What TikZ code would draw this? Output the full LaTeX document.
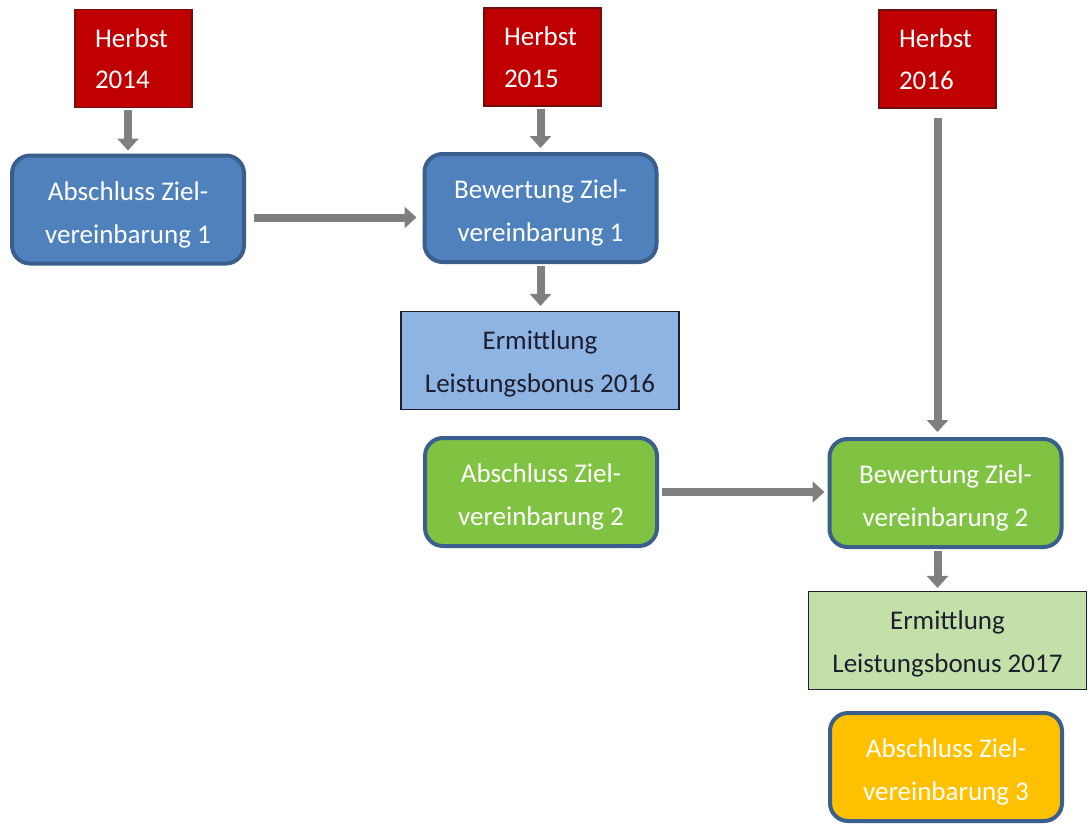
\documentclass[tikz,border=0pt]{standalone}
\usepackage{fontspec}
\setmainfont{Carlito}
\usetikzlibrary{calc,arrows.meta}

\definecolor{herbstred}{HTML}{C00000}
\definecolor{herbstdark}{HTML}{6E1010}
\definecolor{goalblue}{HTML}{4F81BD}
\definecolor{goalgreen}{HTML}{80C342}
\definecolor{goalorange}{HTML}{FFC000}
\definecolor{goalborder}{HTML}{3A5F8C}
\definecolor{bonusblue}{HTML}{8EB4E3}
\definecolor{bonusgreen}{HTML}{C4E0A9}
\definecolor{bonusborder}{HTML}{1E1E2E}
\definecolor{flowgray}{HTML}{7F7F7F}

\tikzset{
  herbst/.style={draw=herbstdark, line width=1.2pt, fill=herbstred, text=white,
    font=\fontsize{27}{41.5}\selectfont,
    minimum width=116pt, minimum height=98pt, text width=77pt, inner xsep=20pt, align=left},
  goal/.style={draw=goalborder, line width=4pt, rounded corners=18pt, text=white,
    text height=72pt, text depth=5pt, minimum width=232pt, minimum height=108pt, align=center},
  bonus/.style={draw=bonusborder, line width=1.2pt, text=bonusborder,
    text height=68pt, text depth=5pt, minimum width=278pt, minimum height=98pt, align=center},
  flow/.style={draw=flowgray, line width=8pt, -{Triangle[width=21pt,length=12pt]}}
}

\begin{document}
\begin{tikzpicture}[x=1pt,y=-1pt,font=\fontsize{27}{43}\selectfont]
\useasboundingbox (0,0) rectangle (1088,825);

% Termine
\node[herbst] (h14) at (133.5,58.5) {Herbst\\2014};
\node[herbst] (h15) at (542.5,57) {Herbst\\2015};
\node[herbst] (h16) at (937.5,59) {Herbst\\2016};

% Zielvereinbarungen
\node[goal, fill=goalblue] (az1) at (128,209.5) {Abschluss Ziel-\\vereinbarung 1};
\node[goal, fill=goalblue] (bz1) at (540.5,208) {Bewertung Ziel-\\vereinbarung 1};
\node[bonus, fill=bonusblue] (el16) at (540,360.5) {Ermittlung\\Leistungsbonus 2016};

\node[goal, fill=goalgreen] (az2) at (541,492) {Abschluss Ziel-\\vereinbarung 2};
\node[goal, fill=goalgreen] (bz2) at (945.5,493) {Bewertung Ziel-\\vereinbarung 2};
\node[bonus, fill=bonusgreen] (el17) at (947.5,640.5) {Ermittlung\\Leistungsbonus 2017};

\node[goal, fill=goalorange] (az3) at (946,767) {Abschluss Ziel-\\vereinbarung 3};

% Pfeile
\draw[flow, shorten <=2pt, shorten >=3pt] (az1.north |- h14.south) -- (az1.north);
\draw[flow, shorten <=8pt, shorten >=6pt] ([yshift=-8pt]az1.east) -- ([yshift=-8pt]az1.east -| bz1.west);
\draw[flow, shorten <=2pt, shorten >=4pt] (bz1.north |- h15.south) -- (bz1.north);
\draw[flow, shorten <=2pt, shorten >=5pt] (bz1.south) -- (bz1.south |- el16.north);
\draw[flow, shorten <=3pt, shorten >=3pt] (az2.east) -- (az2.east -| bz2.west);
\draw[flow, shorten <=9pt, shorten >=5pt] (h16.south) -- (h16.south |- bz2.north);
\draw[flow, shorten <=2pt, shorten >=3pt] (h16.south |- bz2.south) -- (h16.south |- el17.north);
\end{tikzpicture}
\end{document}
